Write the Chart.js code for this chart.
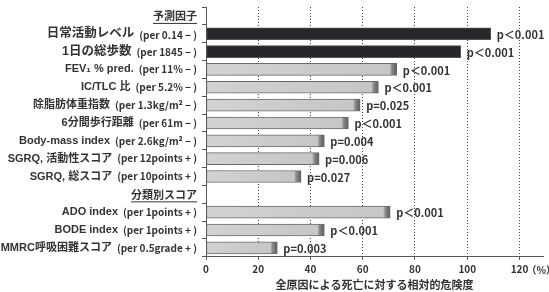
<!DOCTYPE html>
<html lang="ja">
<head>
<meta charset="UTF-8">
<title>全原因による死亡に対する相対的危険度</title>
<script src="https://cdn.jsdelivr.net/npm/chart.js"></script>
<style>
  body { margin: 0; background: #fff; }
  #wrap { width: 549px; height: 292px; }
</style>
</head>
<body>
<div id="wrap"><canvas id="riskChart" width="549" height="292"></canvas></div>
<script>
// 行ラベル（見出し行は isHeader）
const rowNames = ['予測因子', '日常活動レベル', '1日の総歩数', 'FEV₁ % pred.', 'IC/TLC 比',
  '除脂肪体重指数', '6分間歩行距離', 'Body-mass index', 'SGRQ, 活動性スコア', 'SGRQ, 総スコア',
  '分類別スコア', 'ADO index', 'BODE index', 'MMRC呼吸困難スコア'];
const perTexts = ['', '(per 0.14 − )', '(per 1845 − )', '(per 11% − )', '(per 5.2% − )',
  '(per 1.3kg/m² − )', '(per 61m − )', '(per 2.6kg/m² − )', '(per 12points + )', '(per 10points + )',
  '', '(per 1points + )', '(per 1points + )', '(per 0.5grade + )'];
const isHeader = [true, false, false, false, false, false, false, false, false, false, true, false, false, false];
const isMain = [false, true, true, false, false, false, false, false, false, false, false, false, false, false];
// 相対的危険度 (%)
const riskValues = [null, 109, 97.5, 73, 66, 59, 54.5, 45.3, 43.3, 36.4, null, 70.5, 45.3, 27.3];
const pLabels = ['', 'p＜0.001', 'p＜0.001', 'p＜0.001', 'p＜0.001', 'p=0.025', 'p＜0.001', 'p=0.004',
  'p=0.006', 'p=0.027', '', 'p＜0.001', 'p＜0.001', 'p=0.003'];
const xTicks = [0, 20, 40, 60, 80, 100, 120];

const jpFont = '"Noto Sans CJK JP", "Noto Sans", sans-serif';
const labelFont = '"Liberation Sans", "Noto Sans CJK JP", sans-serif';

// バーの塗り（右端を暗くする）
function barFill(ctx) {
  const chart = ctx.chart;
  if (!chart.chartArea || ctx.raw == null) return '#c8c8c8';
  if (isMain[ctx.dataIndex]) return '#26262b';
  const xs = chart.scales.x;
  const x0 = xs.getPixelForValue(0);
  const x1 = xs.getPixelForValue(ctx.raw);
  const w = Math.max(x1 - x0, 10);
  const g = chart.ctx.createLinearGradient(x0, 0, x1, 0);
  g.addColorStop(0, '#d2d2d2');
  g.addColorStop((w - 7) / w, '#c6c6c6');
  g.addColorStop((w - 5) / w, '#8c8c8c');
  g.addColorStop(1, '#5a5a5a');
  return g;
}

// 左側のラベルを描く（大きさの違う2つの文字列）
const rowLabelPlugin = {
  id: 'rowLabels',
  afterDraw(chart) {
    const c = chart.ctx;
    const ys = chart.scales.y;
    const right = chart.chartArea.left - 9;
    c.save();
    c.fillStyle = '#333';
    c.textBaseline = 'middle';
    c.textAlign = 'right';
    rowNames.forEach((name, i) => {
      const y = ys.getPixelForValue(i);
      if (isHeader[i]) {
        c.font = 'bold 11px ' + jpFont;
        c.fillText(name, right, y);
        const w = c.measureText(name).width;
        c.fillRect(right - w, y + 7, w, 1);
        return;
      }
      const perFont = 'bold 10px ' + jpFont;
      const mainFont = isMain[i] ? 'bold 12.5px ' + labelFont : 'bold 11px ' + labelFont;
      c.font = perFont;
      c.fillText(perTexts[i], right, y + (isMain[i] ? 1 : 0));
      const pw = c.measureText(perTexts[i]).width;
      c.font = mainFont;
      c.fillText(name, right - pw - 5, y);
    });
    // 単位
    const xs = chart.scales.x;
    c.font = 'bold 10px ' + jpFont;
    c.textAlign = 'left';
    c.fillText('（%）', xs.getPixelForValue(120) + 7, chart.chartArea.bottom + 13);
    c.restore();
  }
};

// バー右のp値
const pValuePlugin = {
  id: 'pValues',
  afterDatasetsDraw(chart) {
    const c = chart.ctx;
    const meta = chart.getDatasetMeta(0);
    c.save();
    c.fillStyle = '#333';
    c.textBaseline = 'middle';
    c.textAlign = 'left';
    meta.data.forEach((bar, i) => {
      if (!pLabels[i]) return;
      c.font = 'bold 11px ' + jpFont;
      c.fillText(pLabels[i], bar.x + 6, bar.y + 1);
    });
    c.restore();
  }
};

const ctx = document.getElementById('riskChart').getContext('2d');
const riskChart = new Chart(ctx, {
  type: 'bar',
  data: {
    labels: rowNames,
    datasets: [{
      data: riskValues,
      backgroundColor: barFill,
      borderColor: (c) => isMain[c.dataIndex] ? '#555' : '#6a6a6a',
      borderWidth: 1,
      borderSkipped: false,
      barThickness: 12
    }]
  },
  options: {
    indexAxis: 'y',
    responsive: false,
    animation: false,
    layout: { padding: { top: 7, right: 6, left: 0, bottom: 0 } },
    plugins: {
      legend: { display: false },
      tooltip: { enabled: false }
    },
    scales: {
      x: {
        min: 0,
        max: 129,
        afterBuildTicks(scale) {
          scale.ticks = xTicks.map(v => ({ value: v }));
        },
        grid: {
          color: '#444',
          lineWidth: 1,
          tickLength: 3,
          tickBorderDash: [],
          tickColor: '#555'
        },
        // v4: border.dash は目盛りのグリッド線に効く
        border: { display: true, color: '#555', width: 1, dash: [1, 2] },
        ticks: {
          color: '#333',
          font: { family: jpFont, size: 10, weight: 'bold' },
          padding: 3,
          maxRotation: 0
        },
        title: {
          display: true,
          text: '全原因による死亡に対する相対的危険度',
          color: '#333',
          font: { family: jpFont, size: 11, weight: 'bold' },
          padding: { top: 0, bottom: 1 }
        }
      },
      y: {
        offset: true,
        afterFit(scale) { scale.width = 206; },
        grid: {
          offset: true,
          drawOnChartArea: false,
          drawTicks: true,
          tickLength: 4,
          color: '#555'
        },
        border: { display: true, color: '#555', width: 1 },
        ticks: { display: false }
      }
    }
  },
  plugins: [rowLabelPlugin, pValuePlugin]
});
</script>
</body>
</html>
